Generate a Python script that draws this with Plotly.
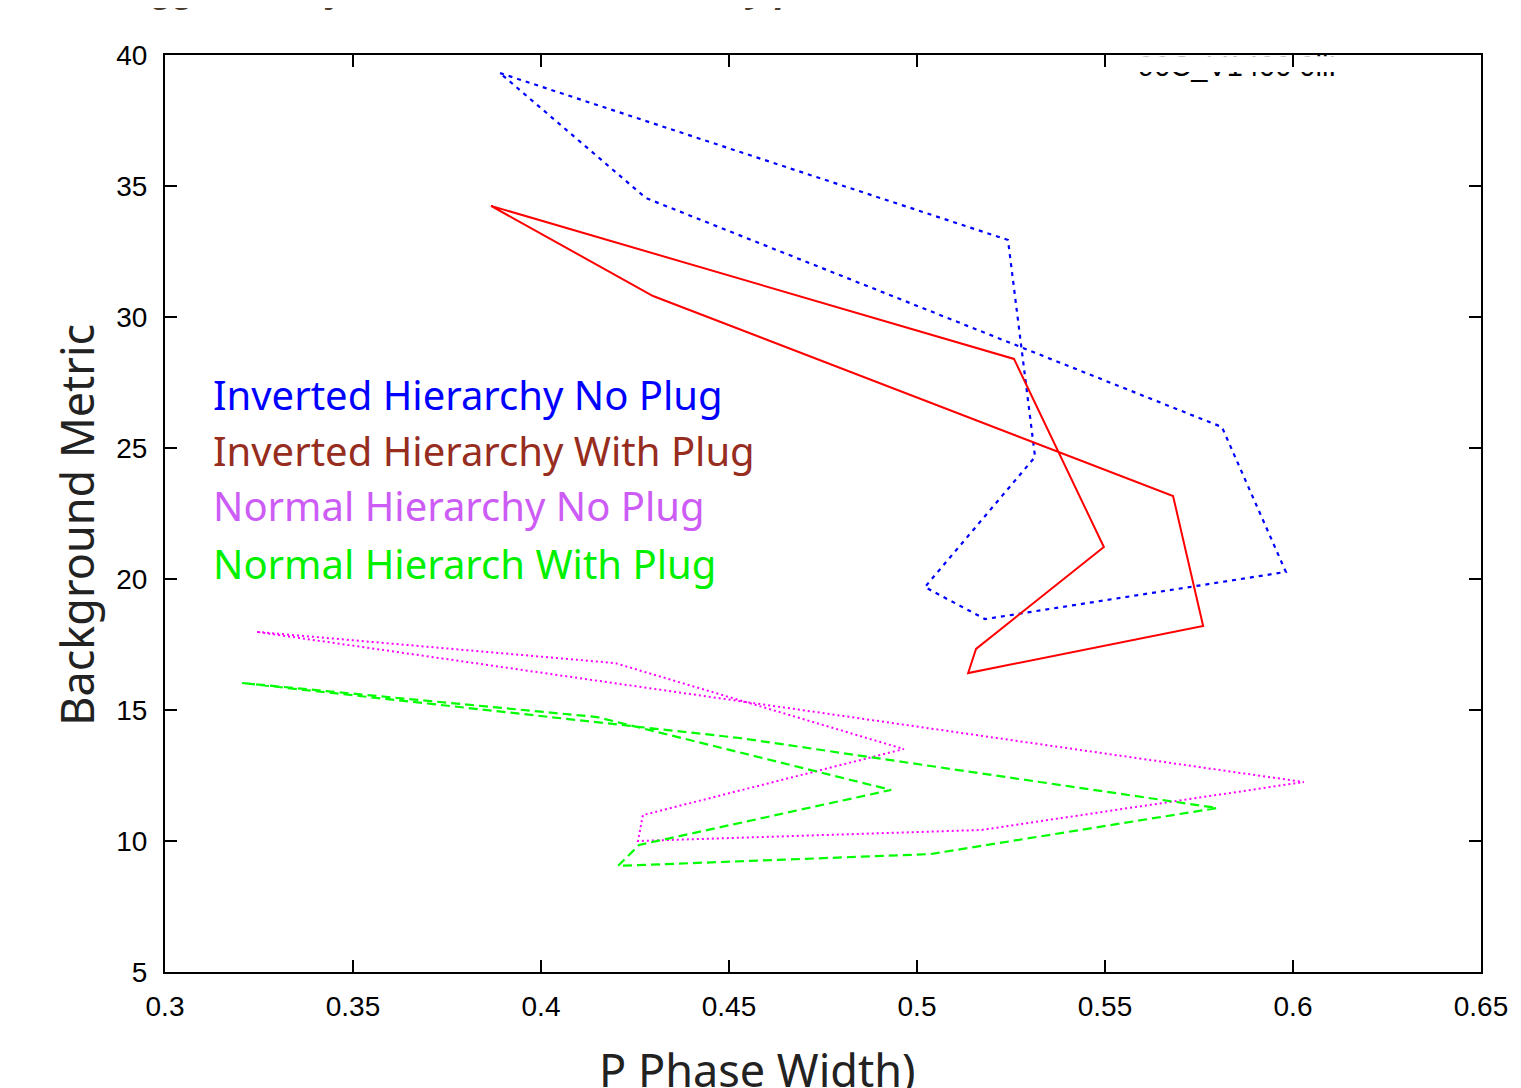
import plotly.graph_objects as go

# ---- data ----
inv_noplug_x = [0.3891, 0.5242, 0.5314, 0.5021, 0.5181, 0.5981, 0.5811, 0.4279, 0.3891]
inv_noplug_y = [39.31, 32.94, 24.66, 19.69, 18.47, 20.27, 25.80, 34.54, 39.31]

inv_plug_x = [0.3867, 0.5258, 0.5497, 0.5157, 0.5136, 0.5761, 0.5681, 0.4298, 0.3867]
inv_plug_y = [34.24, 28.40, 21.22, 17.33, 16.41, 18.21, 23.17, 30.80, 34.24]

norm_noplug_x = [0.3245, 0.4197, 0.4965, 0.4271, 0.4258, 0.5170, 0.6029, 0.3245]
norm_noplug_y = [17.98, 16.79, 13.51, 10.99, 10.00, 10.42, 12.25, 17.98]

norm_plug_x = [0.3205, 0.4149, 0.4931, 0.4261, 0.4205, 0.5035, 0.5798, 0.4529, 0.3205]
norm_plug_y = [16.03, 14.73, 11.95, 9.85, 9.05, 9.50, 11.26, 13.93, 16.03]

legend_labels = ["Inverted Hierarchy No Plug", "Inverted Hierarchy With Plug",
                 "Normal Hierarchy No Plug", "Normal Hierarch With Plug"]
legend_colors = ["#0000ff", "#962d1e", "#cc5cf5", "#00f000"]
legend_y = [27.06, 24.89, 22.79, 20.58]

x_ticks = [0.3, 0.35, 0.4, 0.45, 0.5, 0.55, 0.6, 0.65]
x_tick_text = ["0.3", "0.35", "0.4", "0.45", "0.5", "0.55", "0.6", "0.65"]
y_ticks = [5, 10, 15, 20, 25, 30, 35, 40]

corner_label = "90C_V1400 0llI"
title_text = "Trigger Rate for all the Mass Hierarchy plots"

fig = go.Figure()
fig.add_trace(go.Scatter(x=inv_noplug_x, y=inv_noplug_y, mode="lines",
                         line=dict(color="#0000ff", width=2.2, dash="4px,5px"),
                         showlegend=False))
fig.add_trace(go.Scatter(x=inv_plug_x, y=inv_plug_y, mode="lines",
                         line=dict(color="#ff0000", width=2),
                         showlegend=False))
fig.add_trace(go.Scatter(x=norm_noplug_x, y=norm_noplug_y, mode="lines",
                         line=dict(color="#ff00ff", width=2, dash="2px,3px"),
                         showlegend=False))
fig.add_trace(go.Scatter(x=norm_plug_x, y=norm_plug_y, mode="lines",
                         line=dict(color="#00ff00", width=2.2, dash="9px,5px"),
                         showlegend=False))
# partially hidden label in the top right corner (its upper part is masked)
fig.add_trace(go.Scatter(x=[0.5588], y=[39.49], mode="text", text=[corner_label],
                         textposition="middle right",
                         textfont=dict(family="Liberation Sans", size=29, color="black"),
                         showlegend=False, hoverinfo="skip"))

annotations = []
for lab, col, yy in zip(legend_labels, legend_colors, legend_y):
    annotations.append(dict(x=0.035, xref="paper", y=yy, yref="y", text=lab,
                            showarrow=False, xanchor="left", yanchor="middle",
                            font=dict(family="Noto Sans", size=40, color=col)))

# axis titles
annotations.append(dict(x=-0.067, xref="paper", y=0.4875, yref="paper",
                        text="Background Metric", textangle=-90, showarrow=False,
                        xanchor="center", yanchor="middle",
                        font=dict(family="Noto Sans", size=45, color="#222222")))
annotations.append(dict(x=0.45, xref="paper", y=-0.071, yref="paper",
                        text="P Phase Width)", showarrow=False,
                        xanchor="center", yanchor="top",
                        font=dict(family="Noto Sans", size=45, color="#222222")))
# clipped title at the very top (only descenders remain visible)
annotations.append(dict(x=-0.043, xref="paper", y=1.0442, yref="paper",
                        text="<b><i>" + title_text + "</i></b>",
                        showarrow=False, xanchor="left", yanchor="bottom",
                        font=dict(family="Noto Sans", size=36, color="#4a3b2c")))

mask = dict(fillcolor="white", line=dict(width=0), layer="above",
            xref="x", yref="y", y0=39.35, y1=39.95, type="rect")

fig.update_layout(
    width=1521, height=1088,
    margin=dict(l=157, r=48, t=47, b=124),
    paper_bgcolor="white", plot_bgcolor="white",
    annotations=annotations,
    shapes=[dict(mask, x0=0.555, x1=0.5997), dict(mask, x0=0.6003, x1=0.64)],
    xaxis=dict(range=[0.3, 0.65], tickvals=x_ticks, ticktext=x_tick_text,
               ticks="inside", ticklen=12, tickwidth=1.5, tickcolor="black",
               showline=True, linecolor="black", linewidth=2, mirror="ticks",
               showgrid=False, zeroline=False, ticklabelstandoff=8,
               tickfont=dict(family="Liberation Sans", size=28, color="black")),
    yaxis=dict(range=[5, 40], tickvals=y_ticks,
               ticks="inside", ticklen=12, tickwidth=1.5, tickcolor="black",
               showline=True, linecolor="black", linewidth=2, mirror="ticks",
               showgrid=False, zeroline=False, ticklabelstandoff=10,
               tickfont=dict(family="Liberation Sans", size=28, color="black")),
)

fig.write_html("out.html")
